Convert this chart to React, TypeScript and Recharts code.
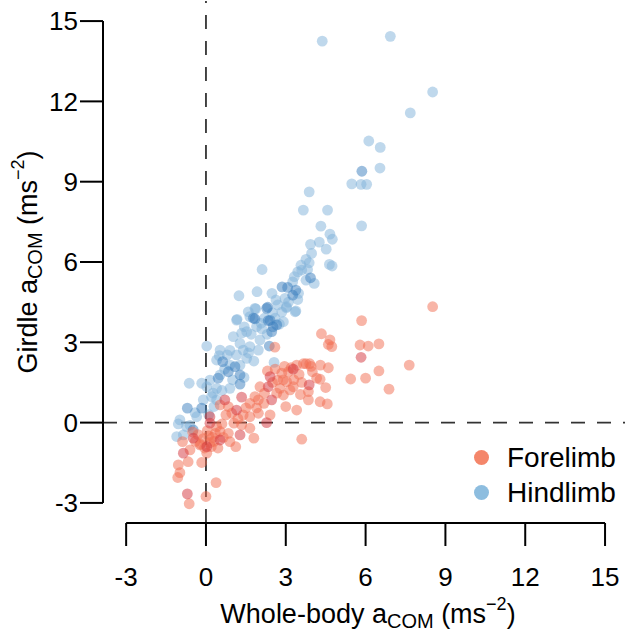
import React from "react";
import {
  ScatterChart,
  Scatter,
  XAxis,
  YAxis,
  ReferenceLine,
} from "recharts";

// axis setup (R style: ticks only from -3 to 15, plot region a bit wider)
const X_MIN = -3.87;
const X_MAX = 15.75;
const Y_MIN = -3.75;
const Y_MAX = 15.75;
const TICKS = [-3, 0, 3, 6, 9, 12, 15];

// Forelimb (red) points, [whole-body, girdle]
const forelimbLight = [
  [8.52, 4.33], [5.85, 3.81], [4.34, 3.32], [4.66, 3.09], [4.6, 2.92], [4.73, 2.84],
  [5.79, 2.9], [6.1, 2.86], [6.5, 2.94], [2.59, 2.82], [7.64, 2.15], [6.5, 1.93],
  [5.44, 1.63], [6.0, 1.66], [6.88, 1.25], [4.6, 2.05], [3.76, 2.2], [3.9, 2.2],
  [3.66, 2.2], [3.41, 2.15], [4.16, 1.66], [4.29, 1.62], [4.5, 1.31], [2.31, 1.93],
  [2.69, 1.59], [3.03, 1.53], [2.78, 1.28], [3.16, 1.22], [2.91, 1.03], [2.66, 1.1],
  [3.28, 1.34], [3.85, 1.16], [3.85, 0.85], [4.29, 0.78], [4.56, 0.7], [3.0, 0.6],
  [3.41, 0.47], [2.03, 1.34], [1.84, 0.97], [1.97, 0.85], [2.18, 0.72], [1.65, 0.72],
  [0.97, 0.35], [1.4, 0.29], [1.65, 0.22], [1.97, 0.35], [2.41, 0.29], [0.53, 0.66],
  [0.84, 0.6], [0.75, 0.29], [1.05, -0.02], [1.34, -0.09], [1.65, -0.21], [1.8, -0.58],
  [3.6, -0.62], [0.4, -0.15], [0.53, -0.33], [0.84, -0.4], [-0.23, -0.83], [-0.88, -0.71],
  [-0.6, -1.02], [0.03, -1.14], [-1.04, -1.58], [-0.67, -1.46], [-0.16, -1.49], [-0.98, -1.87],
  [-1.06, -2.05], [0.38, -2.24], [0.0, -2.76], [-0.63, -3.03], [1.12, -0.9], [0.9, -0.71],
  [-0.3, -0.45], [-0.1, -0.6], [0.1, -0.5], [0.3, -0.7], [-0.2, -0.8], [0.2, -0.9],
  [0.05, -0.3], [-0.4, -0.7], [0.35, -0.4], [0.15, -0.75], [2.9, 1.6], [3.1, 1.9],
  [3.5, 1.8], [3.6, 1.5], [2.6, 2.0], [3.3, 1.6], [4.0, 1.9], [3.95, 2.1],
  [0.25, -0.55], [-0.05, -0.95], [0.45, -0.95], [0.6, -0.05], [1.2, 0.15], [1.5, 0.55],
  [2.2, 1.1], [2.5, 1.5], [2.85, 1.85], [3.2, 2.05], [3.55, 1.05], [1.9, 0.55],
  [0.65, -0.55], [-0.5, -0.35], [2.95, 2.1], [4.3, 2.15],
];

const forelimbDark = [
  [5.83, 2.44], [3.28, 2.0], [3.88, 1.41], [2.41, 1.72], [2.34, 1.34], [2.47, 0.85],
  [1.34, 0.95], [1.15, 0.47], [2.28, 0.0], [0.71, 0.85], [1.28, -0.46], [0.15, 0.22],
  [0.15, -0.02], [0.53, -0.65], [-0.48, -0.58], [0.03, -0.9], [-0.85, -1.14], [-0.7, -2.66],
];

// Hindlimb (blue) points
const hindlimbLight = [
  [4.37, 14.25], [6.93, 14.43], [8.52, 12.35], [7.68, 11.57], [6.12, 10.52], [6.55, 10.28],
  [6.54, 9.51], [5.48, 8.92], [5.83, 8.9], [6.04, 8.9], [3.88, 8.62], [3.66, 7.94],
  [4.57, 7.94], [5.85, 7.35], [4.32, 7.34], [4.66, 7.04], [4.75, 6.85], [4.26, 6.74],
  [3.93, 6.66], [4.52, 6.48], [3.97, 6.32], [3.76, 6.1], [3.88, 5.97], [3.57, 5.88],
  [4.64, 5.91], [4.74, 5.85], [2.11, 5.72], [3.45, 5.63], [3.82, 5.72], [3.32, 5.45],
  [3.76, 5.32], [4.07, 5.2], [3.26, 5.26], [3.48, 4.83], [1.92, 4.89], [2.48, 4.83],
  [1.24, 4.74], [2.63, 4.58], [2.97, 4.64], [3.45, 4.6], [3.02, 4.29], [1.87, 4.25],
  [2.85, 4.13], [3.38, 4.17], [1.17, 3.86], [1.65, 3.96], [1.44, 3.58], [2.07, 3.71],
  [2.76, 3.68], [0.03, 2.86], [0.4, 2.34], [0.9, 2.15], [1.28, 2.15], [1.43, 1.69],
  [0.53, 1.78], [0.15, 1.59], [-0.16, 1.47], [-0.63, 1.47], [0.03, 1.34], [0.4, 1.28],
  [0.9, 1.28], [0.27, 1.1], [0.21, 0.97], [-0.1, 0.85], [0.4, 0.85], [-0.41, 0.37],
  [-0.98, 0.1], [-1.04, -0.05], [-0.73, -0.15], [-1.1, -0.52], [-0.85, -0.46], [-0.35, 0.22],
  [0.53, 2.71], [0.8, 2.53], [1.15, 3.83], [1.84, 4.27], [2.91, 3.77], [3.03, 4.33],
  [3.35, 4.14], [1.34, 3.34], [1.03, 3.21], [2.03, 3.09], [1.97, 2.71], [1.65, 2.84],
  [1.4, 2.71], [1.15, 2.53], [1.53, 2.4], [2.56, 2.25], [1.28, 2.96], [1.53, 3.4],
  [1.9, 3.58], [1.59, 4.14], [2.1, 3.5], [2.2, 3.9], [2.5, 4.1], [2.7, 4.4],
  [3.1, 4.5], [1.7, 3.3], [2.3, 3.3], [2.6, 3.9], [3.6, 5.7], [0.9, 2.7],
  [1.6, 2.6], [0.7, 2.0], [1.0, 1.6], [0.6, 1.2], [0.3, 0.6], [0.1, 0.3],
  [-0.6, -0.1], [0.5, 2.5], [1.8, 2.3],
];

const hindlimbDark = [
  [5.86, 9.39], [3.93, 5.41], [2.86, 5.07], [3.07, 5.05], [3.38, 4.95], [3.26, 4.76],
  [2.32, 4.31], [1.84, 3.88], [2.41, 3.82], [2.52, 3.58], [0.63, 2.28], [1.09, 2.09],
  [0.84, 1.9], [1.28, 1.78], [0.46, 1.66], [1.28, 1.44], [-0.16, 0.54], [-0.7, 0.54],
  [-0.48, -0.27], [1.78, 3.9], [2.28, 4.27], [2.34, 3.81], [2.66, 3.65], [2.47, 3.4],
  [2.38, 2.86],
];

const FONT = "'Liberation Sans', Arial, Helvetica, sans-serif";

const toData = (pts: number[][]) => pts.map(([x, y]) => ({ x, y }));

const dot = (fill: string, opacity: number) => (props: any) => (
  <circle cx={props.cx} cy={props.cy} r={5.4} fill={fill} fillOpacity={opacity} />
);

const XTitle = (props: any) => {
  const { viewBox } = props;
  const cx = viewBox.x + viewBox.width / 2 + 4;
  const y = viewBox.y + 100;
  return (
    <text x={cx} y={y} textAnchor="middle" fontSize={27} fontFamily={FONT} fill="#000">
      Whole-body a
      <tspan fontSize={20} dy={5}>COM</tspan>
      <tspan dy={-5}> (ms</tspan>
      <tspan fontSize={18} dy={-13}>−2</tspan>
      <tspan dy={13}>)</tspan>
    </text>
  );
};

const YTitle = (props: any) => {
  const { viewBox } = props;
  const x = 37;
  const cy = viewBox.y + viewBox.height / 2;
  return (
    <text
      x={x}
      y={cy}
      transform={`rotate(-90, ${x}, ${cy})`}
      textAnchor="middle"
      fontSize={27}
      fontFamily={FONT}
      fill="#000"
    >
      Girdle a
      <tspan fontSize={20} dy={5}>COM</tspan>
      <tspan dy={-5}> (ms</tspan>
      <tspan fontSize={18} dy={-13}>−2</tspan>
      <tspan dy={13}>)</tspan>
    </text>
  );
};

const legendItems = [
  { name: "Forelimb", color: "#f4866a" },
  { name: "Hindlimb", color: "#8dbddf" },
];

function ChartLegend() {
  return (
    <div style={{ position: "absolute", left: 474, top: 440, fontFamily: FONT, fontSize: 28, color: "#000" }}>
      {legendItems.map((it) => (
        <div key={it.name} style={{ display: "flex", alignItems: "center", height: 35 }}>
          <span
            style={{
              display: "inline-block",
              width: 15,
              height: 15,
              borderRadius: "50%",
              background: it.color,
              marginRight: 18,
            }}
          />
          {it.name}
        </div>
      ))}
    </div>
  );
}

export default function App() {
  return (
    <div style={{ position: "absolute", left: 0, top: 0, width: 630, height: 637, background: "#fff" }}>
      <ScatterChart
        width={630}
        height={637}
        margin={{ top: 1, right: 5, bottom: 0, left: 0 }}
        style={{ fontFamily: FONT }}
      >
        <XAxis
          type="number"
          dataKey="x"
          domain={[X_MIN, X_MAX]}
          ticks={TICKS}
          allowDataOverflow
          height={114}
          axisLine={false}
          tickLine={{ stroke: "#000", strokeWidth: 2 }}
          tickSize={23}
          tickMargin={22}
          tick={{ fontSize: 26, fill: "#000", fontFamily: FONT }}
          label={<XTitle />}
        />
        <YAxis
          type="number"
          dataKey="y"
          domain={[Y_MIN, Y_MAX]}
          ticks={TICKS}
          allowDataOverflow
          width={103}
          axisLine={false}
          tickLine={{ stroke: "#000", strokeWidth: 2 }}
          tickSize={23}
          tickMargin={2}
          tick={{ fontSize: 26, fill: "#000", fontFamily: FONT }}
          label={<YTitle />}
        />
        <ReferenceLine x={0} stroke="#333" strokeWidth={1.8} strokeDasharray="14 12" />
        <ReferenceLine y={0} stroke="#333" strokeWidth={1.8} strokeDasharray="14 12" />
        <ReferenceLine
          segment={[{ x: X_MIN, y: -3 }, { x: X_MIN, y: 15 }]}
          stroke="#000"
          strokeWidth={2}
          ifOverflow="visible"
        />
        <ReferenceLine
          segment={[{ x: -3, y: Y_MIN }, { x: 15, y: Y_MIN }]}
          stroke="#000"
          strokeWidth={2}
          ifOverflow="visible"
        />
        <Scatter name="Hindlimb" data={toData(hindlimbLight)} shape={dot("#7fb2da", 0.5)} isAnimationActive={false} />
        <Scatter name="Hindlimb dark" data={toData(hindlimbDark)} shape={dot("#3a7dbd", 0.5)} isAnimationActive={false} />
        <Scatter name="Forelimb" data={toData(forelimbLight)} shape={dot("#f26b4f", 0.5)} isAnimationActive={false} />
        <Scatter name="Forelimb dark" data={toData(forelimbDark)} shape={dot("#d3343c", 0.5)} isAnimationActive={false} />
      </ScatterChart>
      <ChartLegend />
    </div>
  );
}
